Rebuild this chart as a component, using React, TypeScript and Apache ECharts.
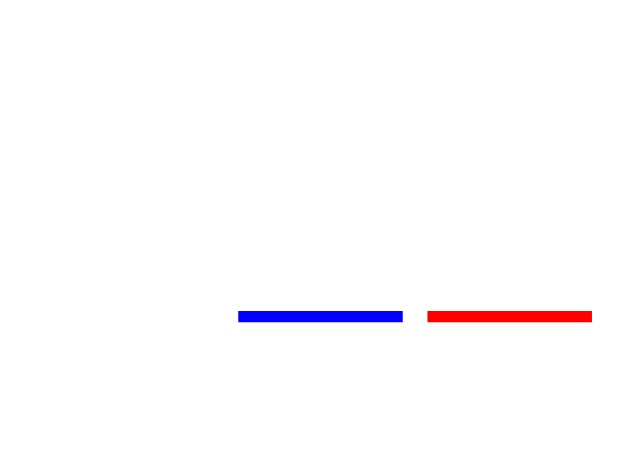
import React, {FunctionComponent, useRef, useEffect} from 'react';
import * as echarts from 'echarts';

const categories = ['A', 'B'];
const values = [1, 1];
const colors = ['#0000ff', '#ff0000'];

const App: FunctionComponent = () => {
    const ref = useRef<HTMLDivElement | null>(null);

    useEffect(() => {
        const chart = echarts.init(ref.current as HTMLDivElement, null, {renderer: 'svg'});
        chart.setOption({
            animation: false,
            backgroundColor: '#ffffff',
            grid: {left: 225.9, right: 640 - 604.3, top: 209.3, bottom: 453 - 322.3},
            xAxis: {
                type: 'category',
                data: categories,
                show: false
            },
            yAxis: {
                type: 'value',
                min: 0,
                max: 10,
                show: false
            },
            series: [
                {
                    type: 'bar',
                    barWidth: 164.5,
                    data: values.map((v, i) => ({value: v, itemStyle: {color: colors[i]}}))
                }
            ]
        });
        return () => chart.dispose();
    }, []);

    return <div ref={ref} style={{position: 'fixed', left: 0, top: 0, width: 640, height: 453}}></div>;
};

export default App;
